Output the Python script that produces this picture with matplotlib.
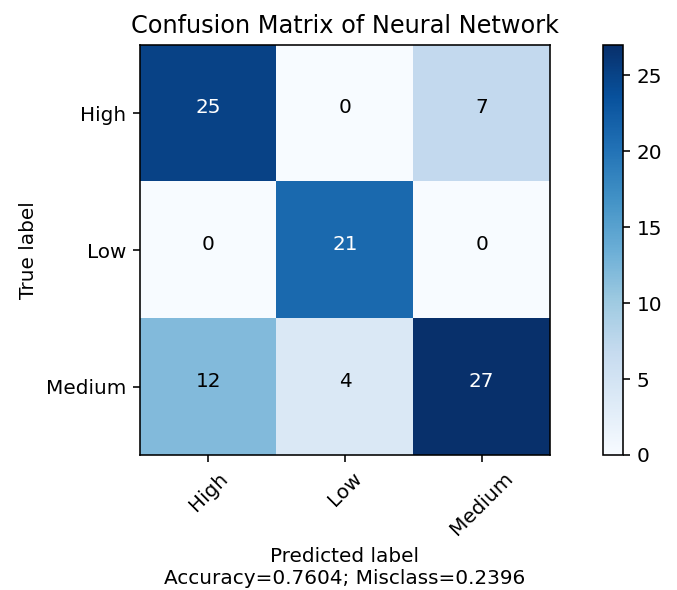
import matplotlib

matplotlib.use("Agg")
import matplotlib.pyplot as plt
import numpy as np

target_names = ["High", "Low", "Medium"]
cm = np.array([
    [25, 0, 7],
    [0, 21, 0],
    [12, 4, 27],
])
accuracy = 0.7604
misclass = 0.2396

DPI = 144


def main():
    fig = plt.figure(figsize=(677 / DPI, 590 / DPI), dpi=DPI)
    ax = fig.add_axes([140 / 677, 1 - 455 / 590, 410 / 677, 410 / 590])
    cax = fig.add_axes([603 / 677, 1 - 455 / 590, 20 / 677, 410 / 590])

    im = ax.imshow(cm, interpolation="nearest", cmap=plt.get_cmap("Blues"))
    ax.set_title("Confusion Matrix of Neural Network")
    fig.colorbar(im, cax=cax)

    ticks = np.arange(len(target_names))
    ax.set_xticks(ticks)
    ax.set_xticklabels(target_names, rotation=45)
    ax.set_yticks(ticks)
    ax.set_yticklabels(target_names)

    thresh = cm.max() / 2
    for i in range(cm.shape[0]):
        for j in range(cm.shape[1]):
            ax.text(j, i, "{:,}".format(cm[i, j]), horizontalalignment="center",
                    color="white" if cm[i, j] > thresh else "black")

    ax.set_ylabel("True label")
    ax.set_xlabel("Predicted label\nAccuracy={:0.4f}; Misclass={:0.4f}".format(accuracy, misclass))

    fig.savefig("out.png", dpi=DPI)
    plt.close(fig)


if __name__ == "__main__":
    main()
